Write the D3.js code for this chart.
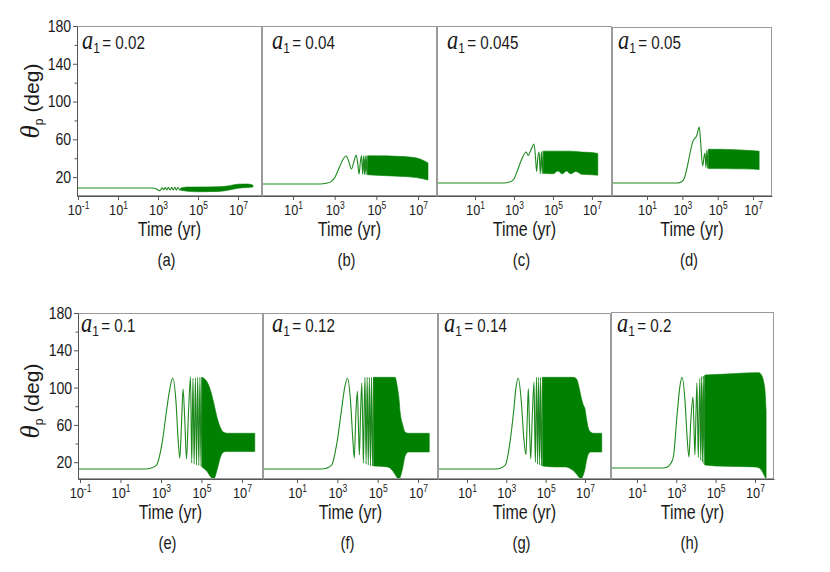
<!DOCTYPE html>
<html>
<head>
<meta charset="utf-8">
<script src="https://cdn.jsdelivr.net/npm/d3@7"></script>
<style>
  body { margin: 0; background: #fff; }
  svg text { font-family: "Liberation Sans", Arial, sans-serif; fill: #1a1a1a; }
</style>
</head>
<body>
<svg id="chart" width="830" height="572"></svg>
<script>
// ---- data: [time (yr), theta_p (deg)] ----
const a1Values = ["0.02", "0.04", "0.045", "0.05", "0.1", "0.12", "0.14", "0.2"];
const panelLetters = ["(a)", "(b)", "(c)", "(d)", "(e)", "(f)", "(g)", "(h)"];
const xTickExps = [-1, 1, 3, 5, 7];
const yTickVals = [20, 40, 60, 80, 100, 120, 140, 160, 180];
const yTickLabels = [20, 60, 100, 140, 180];

// resolved part of each curve (flat start, first swings)
const lineA = [[0.08,8.5],[400,8.5],[700,8.2],[1000,6.3],[1250,5.6],[1600,8.6],[1900,6.6],[2300,9],[2800,6.5],[3300,9.2],[4000,6.4],[4800,9.2],[5800,6.3],[7000,9.3],[8300,6.2],[1e4,9.3],[1.2e4,6.2],[1.4e4,8]];
const lineB = [[0.3,12.7],[200,12.7],[400,13.5],[700,15.5],[1000,19.5],[1800,32],[2600,39.5],[3548,42.4],[4800,36],[6310,28.6],[8500,37],[10715,43.4],[12800,34],[14791,23.3],[17000,36],[19500,42.5],[22000,23],[24500,42.5],[27000,22.5],[29500,42.5],[32000,22.5],[35000,42.5],[38000,22.5]];
const lineC = [[0.1,13.8],[300,13.8],[600,14.8],[1000,18],[1380,25],[2500,39],[4200,46.6],[5400,43],[7500,49],[10700,55],[12800,40],[14500,26],[17000,42],[19500,46.5],[22500,23.5],[25500,47],[28500,23.5],[31500,47]];
const lineD = [[0.1,13.8],[550,13.8],[900,15],[1300,19],[1780,28.6],[2700,45],[3800,57],[6500,64],[9100,73],[11000,55],[14100,31.8],[17000,42],[19000,45.5],[21500,30],[24000,48],[27000,29.5],[29500,49]];
const lineE = [[0.08,12.7],[180,12.7],[300,13.5],[600,17],[1200,44],[1900,76],[2800,100],[3800,110.3],[5500,85],[7000,45],[8500,24.5],[10500,65],[12300,98.5],[15000,65],[18200,23.4],[23000,75],[28800,111.4],[33000,19],[38000,110],[43500,18],[50000,110.5],[57000,17],[65000,111],[74000,16.5],[84000,111],[95000,15.5],[1.05e5,111]];
const lineF = [[0.2,12.7],[170,12.7],[280,13.5],[520,17],[1000,44],[1600,76],[2300,100],[3160,110],[4500,85],[5800,45],[6900,24.5],[8200,70],[9800,96],[11000,60],[12300,27.7],[14000,70],[16200,105],[18000,60],[19500,19],[21500,80],[23400,111],[26500,18],[30000,111],[34000,17],[38500,111],[43500,16],[49000,111],[55000,16],[62000,111]];
const lineG = [[0.3,12.7],[320,12.7],[500,13.5],[900,17],[1600,44],[2400,76],[3100,100],[4070,110],[5800,85],[7800,45],[10000,28],[11700,70],[13200,98.6],[15000,60],[17400,23.5],[21000,70],[25700,106],[28000,50],[30200,20],[32500,80],[34700,111],[39000,18],[44000,111],[49500,17],[55500,111],[62000,16],[70000,111]];
const lineH = [[0.4,13.8],[210,13.8],[330,14.5],[500,18],[710,25.6],[1120,72.8],[1500,100],[1950,111],[2800,85],[3600,45],[4400,25.6],[5500,65],[7100,90],[8000,55],[8900,28],[10000,70],[11200,105],[12300,60],[13200,25],[14500,75],[15850,110],[17500,22],[19500,112],[21500,20],[23800,112.5],[26000,18],[28500,113]];

// unresolved fast oscillation: envelope [time, low, high]
const bandA = [[1.4e4,6,8.5],[3e4,5,9.5],[1e5,4.5,9.5],[1e6,4.8,9.8],[3e6,6,10.5],[1e7,8.3,12.5],[3e7,9,12.7],[5.6e7,9.5,11.5]];
const bandB = [[3.8e4,22.5,42.5],[1e5,22,42.5],[1e6,21,42],[5e6,20,41],[1.5e7,18.5,38.5],[3e7,17,35]];
const bandC = [[3.15e4,24,47.5],[1e5,23.5,47.5],[1.8e5,26.5,47.5],[3e5,23.5,47.5],[5e5,26.5,47.5],[8e5,23.5,47.5],[1.5e6,26,47],[3e6,23,46.5],[1e7,22.5,46],[2e7,22,45]];
const bandD = [[2.95e4,29,49.5],[1e5,29,49.5],[1e6,28.8,49],[1e7,28.5,48],[2.2e7,28,47.5]];
const bandE = [[1.05e5,15,111],[1.9e5,10,106],[2.8e5,4.5,97],[4e5,2,84],[5.9e5,11.7,68],[8.7e5,25.6,57],[1.26e6,31,52],[1.9e6,31.5,51],[4.3e7,31.5,51]];
const bandF = [[6.2e4,16,111],[3e5,15,111],[6e5,9.8,111],[7.2e5,7,111],[9.5e5,3,100],[1.17e6,1.5,85],[1.26e6,3,76],[1.74e6,14,60],[2.24e6,26,52.4],[3.3e6,31,51],[3.6e7,31,51]];
const bandG = [[7e4,16,111],[3e5,15,111],[1e6,15,111],[2.5e6,11,111],[3.8e6,7,109],[5e6,3.5,100],[6.3e6,2,90],[8e6,6,82],[1e7,13,77],[1.2e7,22,66],[1.5e7,29,56],[2e7,31,52],[2.6e7,31,51],[7.1e7,31,51]];
const bandH = [[2.85e4,17,113.5],[1e5,16,114],[1e6,15.5,115],[1e7,15,116],[1.6e7,14,116],[2.2e7,11,113],[2.8e7,7,106],[3.3e7,4,95],[3.7e7,2,75]];

const lines = [lineA, lineB, lineC, lineD, lineE, lineF, lineG, lineH];
const bands = [bandA, bandB, bandC, bandD, bandE, bandF, bandG, bandH];

// ---- layout (pasted sub-figures have slightly different sizes) ----
const boxes = [
  { l: 77,  r: 262, t: 26,  b: 196, lx: [-1.05, 8.2],  yaxis: true,  tx: 5 },
  { l: 262, r: 437, t: 26,  b: 196, lx: [-0.49, 7.91], yaxis: false, tx: 10 },
  { l: 437, r: 612, t: 26,  b: 196, lx: [-0.95, 8.03], yaxis: false, tx: 10 },
  { l: 612, r: 772, t: 27,  b: 196, lx: [-0.98, 8.07], yaxis: false, tx: 6 },
  { l: 78,  r: 263, t: 313, b: 479, lx: [-1.1, 8.04],  yaxis: true,  tx: 3 },
  { l: 263, r: 438, t: 313, b: 479, lx: [-0.69, 7.99], yaxis: false, tx: 9 },
  { l: 438, r: 611, t: 313, b: 479, lx: [-0.47, 8.32], yaxis: false, tx: 6 },
  { l: 611, r: 774, t: 312, b: 479, lx: [-0.32, 7.97], yaxis: false, tx: 6 }
];

const green = "#008000";
const squeeze = 0.8;   // the source figure is squeezed horizontally
const svg = d3.select("#chart");

// text placed at (x, y), narrowed like the original
function label(g, x, y, size, anchor) {
  return g.append("text")
    .attr("transform", `translate(${x},${y}) scale(${squeeze},1)`)
    .attr("text-anchor", anchor || "start")
    .attr("font-size", size);
}

boxes.forEach((bx, i) => {
  const top = i < 4;
  const x = d3.scaleLog().domain([10 ** bx.lx[0], 10 ** bx.lx[1]]).range([bx.l, bx.r]);
  const y = d3.scaleLinear().domain(top ? [0, 180] : [2, 180]).range([bx.b, top ? 26 : 313]);

  const g = svg.append("g");
  const clipId = "clip" + i;
  svg.append("clipPath").attr("id", clipId)
    .append("rect").attr("x", bx.l).attr("y", bx.t).attr("width", bx.r - bx.l).attr("height", bx.b - bx.t);

  const plot = g.append("g").attr("clip-path", `url(#${clipId})`);

  const area = d3.area()
    .x(d => x(d[0])).y0(d => y(d[1])).y1(d => y(d[2]))
    .curve(d3.curveMonotoneX);
  plot.append("path").datum(bands[i])
    .attr("d", area).attr("fill", green).attr("stroke", green).attr("stroke-width", 0.6);

  const line = d3.line().x(d => x(d[0])).y(d => y(d[1])).curve(d3.curveMonotoneX);
  plot.append("path").datum(lines[i])
    .attr("d", line).attr("fill", "none").attr("stroke", "#1e8a1e").attr("stroke-width", 1.1);

  // frame
  g.append("rect").attr("x", bx.l + 0.5).attr("y", bx.t + 0.5)
    .attr("width", bx.r - bx.l - 1).attr("height", bx.b - bx.t - 1)
    .attr("fill", "none").attr("stroke", "#9a9a9a");

  // x axis
  const ticks = xTickExps.filter(e => e >= bx.lx[0] && e <= bx.lx[1]).map(e => 10 ** e);
  const xa = g.append("g").attr("transform", `translate(0,${bx.b})`)
    .call(d3.axisBottom(x).tickValues(ticks).tickSize(4).tickSizeOuter(0).tickPadding(3));
  xa.select(".domain").attr("stroke", "#555");
  xa.selectAll(".tick line").attr("stroke", "#555");
  xa.selectAll(".tick text").text(null)
    .attr("font-size", 15).attr("font-family", null).attr("dy", null).attr("y", 19)
    .attr("transform", "scale(0.85,1)")
    .each(function (d) {
      const t = d3.select(this);
      t.append("tspan").text("10");
      t.append("tspan").attr("dy", -6).attr("font-size", 10).text(Math.round(Math.log10(d)));
    });

  // y axis
  if (bx.yaxis) {
    const ya = g.append("g").attr("transform", `translate(${bx.l},0)`)
      .call(d3.axisLeft(y).tickValues(yTickVals).tickSize(4).tickSizeOuter(0).tickPadding(3)
        .tickFormat(d => yTickLabels.includes(d) ? d : ""));
    ya.select(".domain").attr("stroke", "#555");
    ya.selectAll(".tick line").attr("stroke", "#555")
      .attr("x2", d => yTickLabels.includes(d) ? -4 : -2.5);
    ya.selectAll(".tick text").attr("font-size", 17).attr("font-family", null)
      .attr("transform", "scale(0.83,1)");

    const cy = top ? 101 : 401;
    const yl = g.append("text").attr("transform", `translate(39,${cy}) rotate(-90)`)
      .attr("text-anchor", "middle");
    yl.append("tspan").attr("font-family", "Liberation Serif, serif").attr("font-style", "italic")
      .attr("font-size", 27).text("θ");
    yl.append("tspan").attr("font-size", 12).attr("dy", 4).text("p");
    yl.append("tspan").attr("font-size", 21).attr("dy", -4).text(" (deg)");
  }

  // panel title a1 = ...
  const tt = label(g, bx.l + bx.tx, top ? 49 : 332, 18);
  tt.append("tspan").attr("font-family", "Liberation Serif, serif").attr("font-style", "italic")
    .attr("font-size", 28).text("a");
  tt.append("tspan").attr("font-size", 15).attr("dy", 4).text("1");
  tt.append("tspan").attr("font-size", 19).attr("dy", -4).attr("dx", 3).text("= " + a1Values[i]);

  const cx = (bx.l + bx.r) / 2;
  label(g, cx, bx.b + 40, 20, "middle").text("Time (yr)");
  label(g, cx - 3, bx.b + 70, 18.5, "middle").text(panelLetters[i]);
});
</script>
</body>
</html>
